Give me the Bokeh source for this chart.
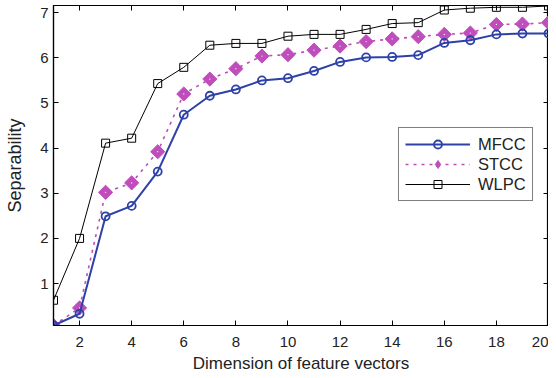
from bokeh.plotting import figure
from bokeh.models import Range1d, LinearAxis, Legend, LegendItem, FixedTicker, CustomJSTickFormatter
from bokeh.embed import file_html
from bokeh.resources import INLINE

dims = list(range(1, 21))
mfcc = [0.07, 0.33, 2.49, 2.72, 3.48, 4.74, 5.16, 5.30, 5.50, 5.55,
        5.71, 5.91, 6.01, 6.02, 6.06, 6.33, 6.39, 6.52, 6.54, 6.54]
stcc = [0.07, 0.46, 3.02, 3.23, 3.92, 5.20, 5.53, 5.76, 6.04, 6.07,
        6.17, 6.26, 6.36, 6.42, 6.47, 6.52, 6.55, 6.74, 6.75, 6.78]
wlpc = [0.63, 2.00, 4.11, 4.22, 5.43, 5.79, 6.28, 6.32, 6.32, 6.48,
        6.52, 6.52, 6.63, 6.76, 6.78, 7.06, 7.10, 7.12, 7.12, 7.15]
xticks = [2, 4, 6, 8, 10, 12, 14, 16, 18, 20]
yticks = [1, 2, 3, 4, 5, 6, 7]

BLUE = "#2d41a8"
MAG = "#bf4dbb"
FONT = "Liberation Sans"

p = figure(output_backend="svg", toolbar_location=None,
           x_range=Range1d(1, 20), y_range=Range1d(0.07, 7.16),
           min_border_left=53, min_border_right=0, min_border_top=5, min_border_bottom=0)
p.frame_width = 495
p.frame_height = 320
p.grid.visible = False
p.outline_line_color = "black"
p.outline_line_width = 1.2
p.background_fill_color = "white"
p.border_fill_color = "white"

for ax in (p.xaxis[0], p.yaxis[0]):
    ax.major_tick_in = 5
    ax.major_tick_out = 0
    ax.minor_tick_in = 0
    ax.minor_tick_out = 0
    ax.axis_line_color = "black"
    ax.axis_line_width = 1.2
    ax.major_label_text_font = FONT
    ax.major_label_text_font_size = "15px"
    ax.major_label_text_color = "#222222"
    ax.axis_label_text_font = FONT
    ax.axis_label_text_font_style = "normal"
    ax.axis_label_text_color = "#222222"
p.xaxis.axis_label_text_font_size = "17px"
p.yaxis.axis_label_text_font_size = "18px"
p.xaxis.ticker = FixedTicker(ticks=xticks)
p.yaxis.ticker = FixedTicker(ticks=yticks)
p.xaxis.axis_label = "Dimension of feature vectors"
p.yaxis.axis_label = "Separability"
p.xaxis.major_label_standoff = 11
p.xaxis.axis_label_standoff = 4
p.yaxis.major_label_standoff = 5
p.yaxis.axis_label_standoff = 12

blank = CustomJSTickFormatter(code="return ''")
top = LinearAxis(ticker=FixedTicker(ticks=xticks), formatter=blank,
                 major_tick_in=5, major_tick_out=0, minor_tick_in=0, minor_tick_out=0,
                 major_label_standoff=0, axis_line_color="black")
right = LinearAxis(ticker=FixedTicker(ticks=yticks), formatter=blank,
                   major_tick_in=5, major_tick_out=0, minor_tick_in=0, minor_tick_out=0,
                   major_label_standoff=0, axis_line_color="black")
p.add_layout(top, "above")
p.add_layout(right, "right")

# WLPC
wl = p.line(dims, wlpc, line_color="black", line_width=1)
ws = p.scatter(dims, wlpc, marker="square", size=8, fill_color="white",
               fill_alpha=0, line_color="black", line_width=1)
# STCC
sl = p.line(dims, stcc, line_color=MAG, line_width=1.6, line_dash="3 5")
ss = p.scatter(dims, stcc, marker="square", angle=0.785, size=10, fill_color=MAG,
               line_color=MAG, line_width=1)
sd = p.scatter(dims, stcc, marker="dot", size=5, line_color="white", fill_color="white")
# legend-only diamond sample (hidden in the plot)
sleg = p.scatter(dims, stcc, marker="diamond", size=19, fill_color=MAG,
                 line_color=MAG, line_width=1, visible=False)
# MFCC
ml = p.line(dims, mfcc, line_color=BLUE, line_width=2)
ms = p.scatter(dims, mfcc, marker="circle", size=8, fill_color="white",
               fill_alpha=0, line_color=BLUE, line_width=1.8)

legend = Legend(items=[
    LegendItem(label="MFCC", renderers=[ml, ms]),
    LegendItem(label="STCC", renderers=[sl, sleg]),
    LegendItem(label="WLPC", renderers=[wl, ws]),
], location=(345, 124))
legend.label_text_font = FONT
legend.label_text_font_size = "16.5px"
legend.label_text_color = "#222222"
legend.border_line_color = "black"
legend.border_line_width = 1.2
legend.background_fill_alpha = 1
legend.inactive_fill_alpha = 0
legend.glyph_width = 65
legend.glyph_height = 20
legend.label_standoff = 8
legend.spacing = 0
legend.padding = 6
legend.margin = 0
p.add_layout(legend, "center")

open("out.html", "w").write(file_html(p, INLINE))
